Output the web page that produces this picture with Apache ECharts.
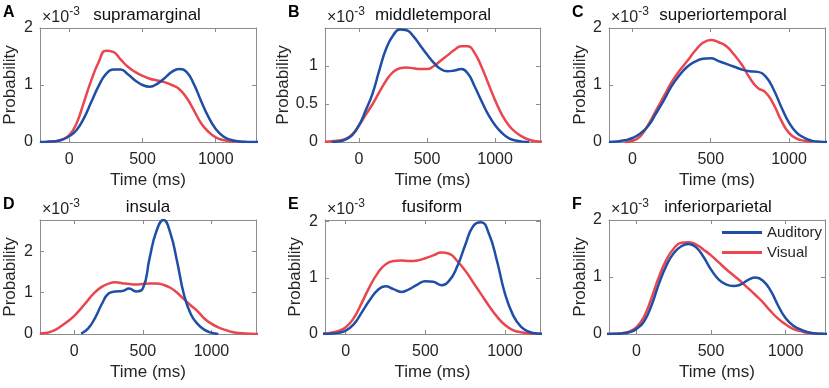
<!DOCTYPE html>
<html>
<head>
<meta charset="utf-8">
<script src="https://cdn.jsdelivr.net/npm/echarts@6/dist/echarts.min.js"></script>
<style>
  html, body { margin: 0; padding: 0; background: #fff; }
  #chart { width: 829px; height: 388px; }
</style>
</head>
<body>
<div id="chart"></div>
<script>
// 时间采样点 (ms)，所有面板共用
const times = [-250, -200, -150, -100, -50, 0, 50, 100, 150, 200, 250, 300, 350, 400, 450, 500,
  550, 600, 650, 700, 750, 800, 850, 900, 950, 1000, 1050, 1100, 1150, 1200, 1250, 1300, 1350];

// 概率值 (x10^-3)
const audA = [null, 0, 0.005, 0.015, 0.04, 0.1, 0.21, 0.42, 0.7, 0.98, 1.19, 1.27, 1.27, 1.19, 1.08, 1.0,
  0.97, 1.02, 1.12, 1.23, 1.28, 1.23, 1.02, 0.72, 0.44, 0.23, 0.1, 0.04, 0.012, 0.003, 0, 0, null];
const visA = [null, null, 0.003, 0.01, 0.04, 0.12, 0.33, 0.7, 1.08, 1.4, 1.6, 1.58, 1.45, 1.32, 1.23, 1.16,
  1.11, 1.08, 1.05, 1.0, 0.93, 0.78, 0.56, 0.33, 0.18, 0.08, 0.035, 0.015, 0.006, 0.002, null, null, null];

const audB = [null, 0, 0.008, 0.03, 0.09, 0.22, 0.42, 0.64, 0.95, 1.23, 1.4, 1.48, 1.47, 1.39, 1.27, 1.15,
  1.04, 0.96, 0.93, 0.94, 0.96, 0.9, 0.73, 0.54, 0.36, 0.22, 0.12, 0.05, 0.02, 0.005, 0, null, null];
const visB = [0.003, 0.01, 0.02, 0.04, 0.1, 0.22, 0.36, 0.5, 0.66, 0.81, 0.92, 0.97, 0.98, 0.97, 0.96, 0.96,
  1.0, 1.07, 1.14, 1.21, 1.26, 1.26, 1.17, 0.99, 0.77, 0.55, 0.36, 0.22, 0.13, 0.07, 0.03, 0.01, 0.004];

const audC = [null, null, 0, 0.01, 0.03, 0.07, 0.15, 0.28, 0.5, 0.73, 0.98, 1.17, 1.32, 1.41, 1.46, 1.47,
  1.42, 1.37, 1.32, 1.27, 1.24, 1.23, 1.15, 0.93, 0.62, 0.34, 0.16, 0.07, 0.02, 0.005, 0, null, null];
const visC = [null, null, null, null, 0, 0.02, 0.1, 0.3, 0.55, 0.8, 1.05, 1.25, 1.42, 1.6, 1.74, 1.79,
  1.75, 1.68, 1.53, 1.35, 1.12, 0.95, 0.87, 0.67, 0.38, 0.16, 0.06, 0.02, 0, null, null, null, null];

const audD = [null, null, null, null, null, null, 0.01, 0.13, 0.38, 0.72, 0.98, 1.03, 1.04, 1.1, 1.03, 1.1,
  1.85, 2.5, 2.76, 2.45, 1.75, 0.95, 0.48, 0.24, 0.1, 0.03, 0, null, null, null, null, null, null];
const visD = [0.01, 0.03, 0.08, 0.18, 0.3, 0.44, 0.62, 0.82, 1.01, 1.14, 1.22, 1.25, 1.23, 1.21, 1.2, 1.21,
  1.22, 1.22, 1.19, 1.12, 1.0, 0.84, 0.69, 0.55, 0.37, 0.25, 0.16, 0.1, 0.05, 0.025, 0.01, 0.004, 0];

const audE = [null, 0, 0, 0.005, 0.02, 0.06, 0.17, 0.38, 0.6, 0.78, 0.85, 0.8, 0.75, 0.8, 0.88, 0.94,
  0.93, 0.87, 0.95, 1.2, 1.58, 1.92, 1.99, 1.78, 1.3, 0.72, 0.34, 0.13, 0.04, 0.01, 0.003, null, null];
const visE = [null, 0.005, 0.01, 0.02, 0.05, 0.12, 0.28, 0.55, 0.84, 1.08, 1.24, 1.3, 1.31, 1.3, 1.31, 1.35,
  1.4, 1.45, 1.43, 1.3, 1.13, 0.92, 0.71, 0.5, 0.31, 0.16, 0.07, 0.03, 0.01, 0.003, 0.001, null, null];

const audF = [null, 0, 0.003, 0.01, 0.03, 0.09, 0.22, 0.5, 0.88, 1.2, 1.42, 1.54, 1.58, 1.52, 1.35, 1.13,
  0.96, 0.87, 0.84, 0.87, 0.95, 0.99, 0.93, 0.76, 0.5, 0.28, 0.15, 0.08, 0.03, 0.01, 0.003, 0, null];
const visF = [null, 0, 0.004, 0.015, 0.04, 0.12, 0.3, 0.63, 1.0, 1.3, 1.5, 1.6, 1.61, 1.57, 1.48, 1.38,
  1.26, 1.14, 1.03, 0.92, 0.8, 0.68, 0.55, 0.4, 0.27, 0.17, 0.09, 0.05, 0.02, 0.01, 0.003, null, null];

// 刻度
const xTicks = [0, 500, 1000];
const yTicks = [0, 1, 2];
const yTicksHalf = [0, 0.5, 1];

const regions = ['supramarginal', 'middletemporal', 'superiortemporal', 'insula', 'fusiform', 'inferiorparietal'];
const letters = ['A', 'B', 'C', 'D', 'E', 'F'];
const xRanges = [[-200, 1275], [-250, 1330], [-150, 1230], [-250, 1325], [-130, 1220], [-185, 1265]];
const yMaxes = [2, 1.5, 2, 2.76, 2.03, 2];
const auditory = [audA, audB, audC, audD, audE, audF];
const visual = [visA, visB, visC, visD, visE, visF];

// 布局
const boxes = [
  { left: 40, top: 28, width: 216, gap: 21, titleX: 147 },
  { left: 325, top: 28, width: 215, gap: 31, titleX: 433 },
  { left: 609, top: 28, width: 216, gap: 20, titleX: 723 },
  { left: 40, top: 220, width: 216, gap: 21, titleX: 148 },
  { left: 325, top: 220, width: 215, gap: 21, titleX: 432 },
  { left: 609, top: 220, width: 216, gap: 20, titleX: 718 }
];
const boxHeight = 114;
const blue = '#1f4ea6';
const red = '#e9464f';
const axisColor = '#8c8c8c';
const textColor = '#262626';
const font = '"Liberation Sans", Arial, Helvetica, sans-serif';

function pairs(vals) {
  const out = [];
  vals.forEach((v, i) => {
    if (v !== null) out.push([times[i], v]);
  });
  return out;
}

const chart = echarts.init(document.getElementById('chart'));

const grid = [];
const xAxis = [];
const yAxis = [];
const series = [];
const graphic = [];

boxes.forEach((b, i) => {
  grid.push({ left: b.left, top: b.top, width: b.width, height: boxHeight, containLabel: false });
  const yt = i === 1 ? yTicksHalf : yTicks;
  const tickStyle = { color: axisColor, width: 1 };
  // 下方 x 轴
  xAxis.push({
    gridIndex: i, type: 'value', min: xRanges[i][0], max: xRanges[i][1], position: 'bottom',
    axisLine: { show: true, onZero: false, lineStyle: { color: axisColor } },
    axisTick: { show: true, inside: true, length: 4, customValues: xTicks, lineStyle: tickStyle },
    axisLabel: {
      customValues: xTicks, fontSize: 16, color: textColor, margin: 10, fontFamily: font,
      formatter: v => String(v)
    },
    splitLine: { show: false },
    name: 'Time (ms)', nameLocation: 'middle', nameGap: 30,
    nameTextStyle: { fontSize: 17, color: textColor, fontFamily: font }
  });
  // 左侧 y 轴
  yAxis.push({
    gridIndex: i, type: 'value', min: 0, max: yMaxes[i], position: 'left',
    axisLine: { show: true, onZero: false, lineStyle: { color: axisColor } },
    axisTick: { show: true, inside: true, length: 4, customValues: yt, lineStyle: tickStyle },
    axisLabel: {
      customValues: yt, fontSize: 16, color: textColor, margin: 7, fontFamily: font,
      formatter: v => String(v)
    },
    splitLine: { show: false },
    name: 'Probability', nameLocation: 'middle', nameGap: b.gap,
    nameTextStyle: { fontSize: 17, color: textColor, fontFamily: font }
  });
  series.push({
    name: 'Auditory', type: 'line', xAxisIndex: i, yAxisIndex: i, data: pairs(auditory[i]),
    smooth: 0.5, showSymbol: false, color: blue, lineStyle: { width: 2.5, color: blue }, z: 3
  });
  series.push({
    name: 'Visual', type: 'line', xAxisIndex: i, yAxisIndex: i, data: pairs(visual[i]),
    smooth: 0.5, showSymbol: false, color: red, lineStyle: { width: 2.5, color: red }, z: 2
  });
  // 标题、字母、量级
  graphic.push({
    type: 'text', x: b.titleX, y: b.top - 13,
    style: { text: regions[i], fill: '#111', font: '17px ' + font, align: 'center', verticalAlign: 'middle' }
  });
  graphic.push({
    type: 'text', x: b.left - 37, y: b.top - 15,
    style: { text: letters[i], fill: '#000', font: 'bold 16px ' + font, align: 'left', verticalAlign: 'middle' }
  });
  graphic.push({
    type: 'text', x: b.left + 2, y: b.top - 10,
    style: {
      text: '{a|×10}{b|-3}', align: 'left', verticalAlign: 'middle',
      rich: {
        a: { fontSize: 16, fontFamily: font, fill: textColor, color: textColor },
        b: { fontSize: 12, fontFamily: font, fill: textColor, color: textColor, verticalAlign: 'top', padding: [0, 0, 12, 0] }
      }
    }
  });
});

// 镜像刻度 (上、右)
boxes.forEach((b, i) => {
  const yt = i === 1 ? yTicksHalf : yTicks;
  xAxis.push({
    gridIndex: i, type: 'value', min: xRanges[i][0], max: xRanges[i][1], position: 'top',
    axisLine: { show: true, onZero: false, lineStyle: { color: axisColor } },
    axisTick: { show: true, inside: true, length: 4, customValues: xTicks, lineStyle: { color: axisColor } },
    axisLabel: { show: false }, splitLine: { show: false }
  });
  yAxis.push({
    gridIndex: i, type: 'value', min: 0, max: yMaxes[i], position: 'right',
    axisLine: { show: true, onZero: false, lineStyle: { color: axisColor } },
    axisTick: { show: true, inside: true, length: 4, customValues: yt, lineStyle: { color: axisColor } },
    axisLabel: { show: false }, splitLine: { show: false }
  });
});

chart.setOption({
  animation: false,
  backgroundColor: '#fff',
  grid: grid,
  xAxis: xAxis,
  yAxis: yAxis,
  legend: {
    data: ['Auditory', 'Visual'],
    orient: 'vertical',
    left: 722, top: 225,
    icon: 'rect', itemWidth: 40, itemHeight: 3, itemGap: 5, padding: 0,
    textStyle: { fontSize: 15, color: textColor, fontFamily: font }
  },
  series: series,
  graphic: graphic
});
</script>
</body>
</html>
